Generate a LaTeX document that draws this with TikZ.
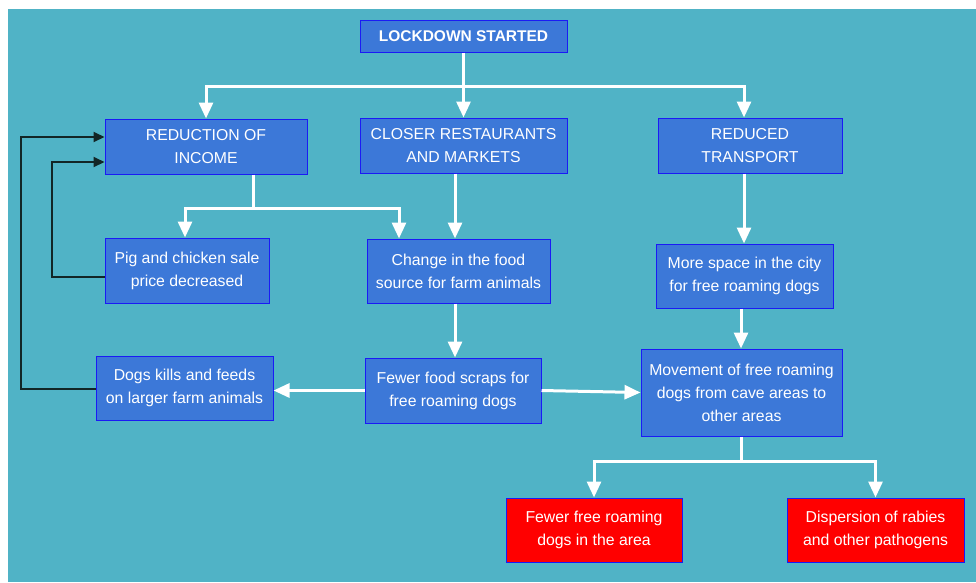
\documentclass[tikz,border=0pt]{standalone}
\usepackage{fontspec}
\setmainfont{Liberation Sans}
\usetikzlibrary{arrows.meta}
\definecolor{bgteal}{HTML}{50B3C6}
\definecolor{boxblue}{HTML}{3C78D8}
\definecolor{boxedge}{HTML}{1A1AF5}
\definecolor{boxred}{HTML}{FF0000}
\definecolor{fbline}{HTML}{122626}
\tikzset{
  box/.style={draw=boxedge, line width=1pt, fill=boxblue, text=white, align=center,
    inner sep=0pt, font=\fontsize{15.8}{23}\selectfont},
  redbox/.style={box, fill=boxred},
  wl/.style={draw=white, line width=3pt},
  wa/.style={wl, -{Triangle[length=16pt,width=14pt]}},
  ba/.style={draw=fbline, line width=2pt, -{Triangle[length=11pt,width=10pt]}},
}
\begin{document}
\begin{tikzpicture}[x=1pt,y=-1pt]
\useasboundingbox (0,0) rectangle (976,582);
\fill[white] (0,0) rectangle (976,582);
\fill[bgteal] (8,9) rectangle (976,582);

\node[box, minimum width=207, minimum height=32, font=\fontsize{15.5}{23}\selectfont\bfseries] (lock) at (463.5,36) {LOCKDOWN STARTED};
\node[box, minimum width=202, minimum height=55] (red) at (206,146.5) {REDUCTION OF\\INCOME};
\node[box, minimum width=207, minimum height=55] (close) at (463.5,145.5) {CLOSER RESTAURANTS\\AND MARKETS};
\node[box, minimum width=184, minimum height=55] (trans) at (750,145.5) {REDUCED\\TRANSPORT};
\node[box, minimum width=164, minimum height=65] (pig) at (187,270.5) {Pig and chicken sale\\price decreased};
\node[box, minimum width=183, minimum height=64] (change) at (458.5,271) {Change in the food\\source for farm animals};
\node[box, minimum width=177, minimum height=64] (space) at (744.5,276) {More space in the city\\for free roaming dogs};
\node[box, minimum width=177, minimum height=64] (dogs) at (184.5,388) {Dogs kills and feeds\\on larger farm animals};
\node[box, minimum width=176, minimum height=65] (scraps) at (453,390.5) {Fewer food scraps for\\free roaming dogs};
\node[box, minimum width=201, minimum height=87] (move) at (741.5,392.5) {Movement of free roaming\\dogs from cave areas to\\other areas};
\node[redbox, minimum width=176, minimum height=64] (fewer) at (594,530) {Fewer free roaming\\dogs in the area};
\node[redbox, minimum width=177, minimum height=64] (disp) at (875.5,530) {Dispersion of rabies\\and other pathogens};

% junction points and guide coordinates
\coordinate (j1) at (463.5,86);
\coordinate (j2) at (253,208);
\coordinate (j3) at (741,461);
\coordinate (x253) at (253,0);
\coordinate (x185) at (185,0);
\coordinate (x399) at (399,0);
\coordinate (x455) at (455,0);
\coordinate (x744) at (744,0);
\coordinate (x741) at (741,0);
\coordinate (f1) at (52,277);
\coordinate (f2) at (52,162);
\coordinate (g1) at (21,389);
\coordinate (g2) at (21,137);

% lockdown fan-out
\draw[wl] (lock.south) -- (j1);
\draw[wa] (j1) -| (red.north);
\draw[wa] (j1) -- (close.north);
\draw[wa] (j1) -| (trans.north -| x744);

% reduction of income fan-out
\draw[wl] (red.south -| x253) -- (j2);
\draw[wa] (j2) -| (pig.north -| x185);
\draw[wa] (j2) -| (change.north -| x399);

% vertical chains
\draw[wa] (close.south -| x455) -- (change.north -| x455);
\draw[wa] (change.south -| x455) -- (scraps.north -| x455);
\draw[wa] (trans.south -| x744) -- (space.north -| x744);
\draw[wa] (space.south -| x741) -- (move.north -| x741);

% sideways from scraps
\draw[wa] (scraps.west) -- (dogs.east |- scraps.west);
\draw[wa] (scraps.east) -- (move.west);

% movement fan-out
\draw[wl] (move.south -| x741) -- (j3);
\draw[wa] (j3) -| (fewer.north);
\draw[wa] (j3) -| (disp.north);

% feedback loops
\draw[ba] (pig.west |- f1) -- (f1) -- (f2) -- (red.west |- f2);
\draw[ba] (dogs.west |- g1) -- (g1) -- (g2) -- (red.west |- g2);
\end{tikzpicture}
\end{document}
